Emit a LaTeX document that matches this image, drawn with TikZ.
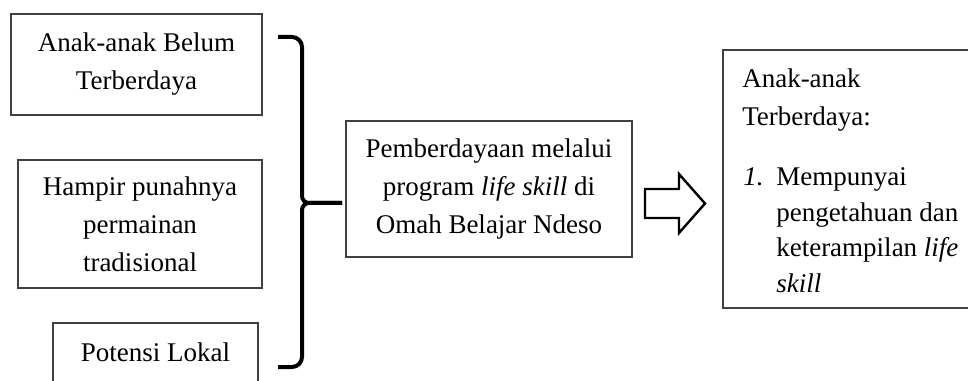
\documentclass[tikz,border=0pt]{standalone}
\usepackage{fontspec}
\setmainfont{Liberation Serif}
\begin{document}
\begin{tikzpicture}[x=0.75pt,y=-0.75pt,
  boxline/.style={draw=black!75,line width=1pt},
  box/.style={boxline,inner sep=0pt,align=center,font=\fontsize{20.25}{28.5}\selectfont},
  txt/.style={anchor=base west,inner sep=0pt,font=\fontsize{20.25}{27}\selectfont},
  ctxt/.style={inner sep=0pt,font=\fontsize{20.25}{27}\selectfont},
  bracestyle/.style={line width=3pt,line cap=butt,line join=round},
  blockarrow/.style={draw=black,line width=1.8pt,line join=miter}]
\useasboundingbox (0,0) rectangle (968,381);
\clip (0,0) rectangle (968,381);
% left boxes
\node[box,minimum width=188.25pt,minimum height=75.75pt] (b1) at (136.5,64.5) {Anak-anak Belum\\Terberdaya};
\node[box,minimum width=183pt,minimum height=96pt] (b2) at (140,224) {Hampir punahnya\\permainan\\tradisional};
\draw[boxline] (53,323) rectangle (258,400);
\node[ctxt] (b3) at (155.5,352) {Potensi Lokal};
% brace
\coordinate (bt) at (342,203);
\draw[bracestyle] (278,37) -- (292,37) to[out=0,in=90] (302,47) -- (302,196) to[out=-90,in=180] (309,203) -- (bt);
\draw[bracestyle] (bt) -- (309,203) to[out=180,in=90] (302,210) -- (302,357) to[out=-90,in=0] (292,367) -- (278,367);
% middle box
\node[box,minimum width=214.5pt,minimum height=102pt] (mid) at (489,189) {Pemberdayaan melalui\\program \textit{life skill} di\\Omah Belajar Ndeso};
% block arrow
\draw[blockarrow] (645,189) -- (679,189) -- (679,174) -- (705,203.5) -- (679,233) -- (679,218) -- (645,218) -- cycle;
% right box
\draw[boxline] (723,50) rectangle (985,308);
\node[txt] (r1) at (742,88) {Anak-anak};
\node[txt] (r2) at (742,126) {Terberdaya:};
\node[txt] (rn) at (743,186) {\textit{1.}};
\node[txt] (r3) at (776,186) {Mempunyai};
\node[txt] (r4) at (776,222) {pengetahuan dan};
\node[txt] (r5) at (776,257) {keterampilan \textit{life}};
\node[txt] (r6) at (776,292) {\textit{skill}};
\end{tikzpicture}
\end{document}
